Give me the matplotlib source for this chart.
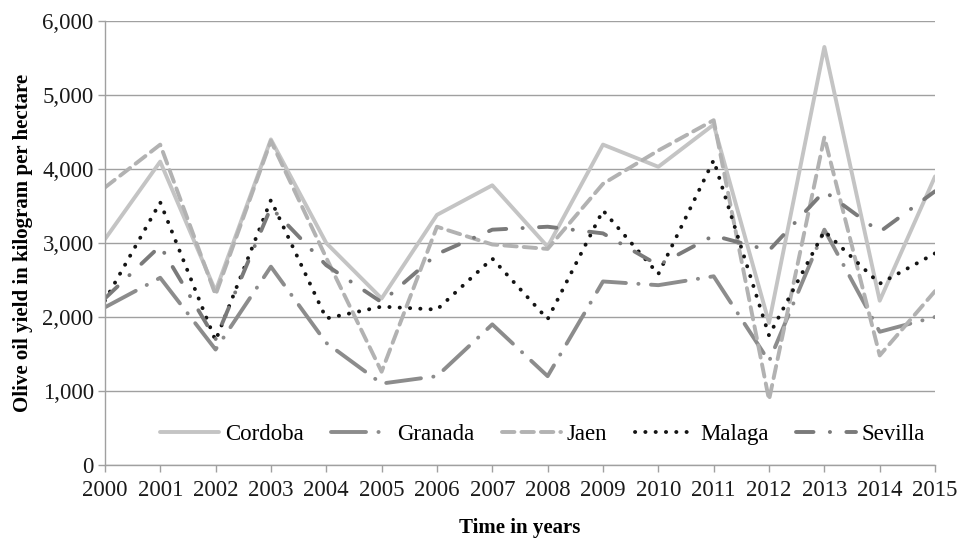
"""
Olive oil yield per hectare in Andalusian provinces, 2000-2015
"""
import matplotlib.pyplot as plt
from matplotlib.ticker import FuncFormatter

years = list(range(2000, 2016))

cordoba = [3050, 4100, 2350, 4400, 3000, 2250, 3380, 3780, 2950, 4330, 4030, 4600, 1920, 5650, 2220, 3900]
granada = [2130, 2530, 1560, 2680, 1650, 1100, 1200, 1900, 1200, 2480, 2430, 2550, 1400, 3180, 1800, 2000]
jaen = [3750, 4330, 2300, 4380, 2800, 1260, 3220, 2980, 2920, 3800, 4250, 4660, 880, 4430, 1480, 2350]
malaga = [2220, 3550, 1680, 3580, 1980, 2140, 2100, 2790, 1970, 3440, 2580, 4120, 1750, 3160, 2450, 2860]
sevilla = [2250, 2960, 1700, 3480, 2700, 2200, 2850, 3180, 3220, 3130, 2700, 3100, 2900, 3700, 3150, 3700]

series = {
    "Cordoba": (cordoba, "#c4c4c4", "-"),
    "Granada": (granada, "#8c8c8c", (0, (9, 3.2, 0.05, 3.2))),
    "Jaen": (jaen, "#b2b2b2", (0, (3.2, 1.8))),
    "Malaga": (malaga, "#141414", (0, (0.05, 2.6))),
    "Sevilla": (sevilla, "#7a7a7a", (0, (4.5, 4.2, 0.05, 4.2))),
}

plt.rcParams["font.family"] = ["Liberation Serif", "DejaVu Serif"]

fig, ax = plt.subplots(figsize=(9.62, 5.40), dpi=100)
fig.subplots_adjust(left=0.109, right=0.972, bottom=0.139, top=0.961)

for name, (vals, color, ls) in series.items():
    ax.plot(years, vals, color=color, linestyle=ls, linewidth=2.8,
            dash_capstyle="round", solid_capstyle="round", label=name)

ax.set_xlim(2000, 2015)
ax.set_ylim(0, 6000)
ax.set_xticks(years)
ax.set_yticks(range(0, 6001, 1000))
ax.yaxis.set_major_formatter(FuncFormatter(lambda v, p: f"{int(v):,}"))

ax.grid(axis="y", color="#a0a0a0", linewidth=1)
ax.set_axisbelow(True)
for side in ["top", "right"]:
    ax.spines[side].set_visible(False)
for side in ["left", "bottom"]:
    ax.spines[side].set_color("#a0a0a0")
    ax.spines[side].set_linewidth(1)
ax.tick_params(axis="both", colors="#a0a0a0", labelcolor="#1a1a1a",
               labelsize=16.5, length=5, width=1, pad=3)
ax.tick_params(axis="x", pad=6)

ax.set_ylabel("Olive oil yield in kilogram per hectare", fontsize=15, fontweight="bold", labelpad=7)
ax.set_xlabel("Time in years", fontsize=15, fontweight="bold", labelpad=12)

ax.legend(loc="center", bbox_to_anchor=(0.527, 0.068), ncol=5, frameon=False,
          fontsize=16.5, handlelength=2.6, columnspacing=1.2, handletextpad=0.25)

plt.savefig("out.png")
